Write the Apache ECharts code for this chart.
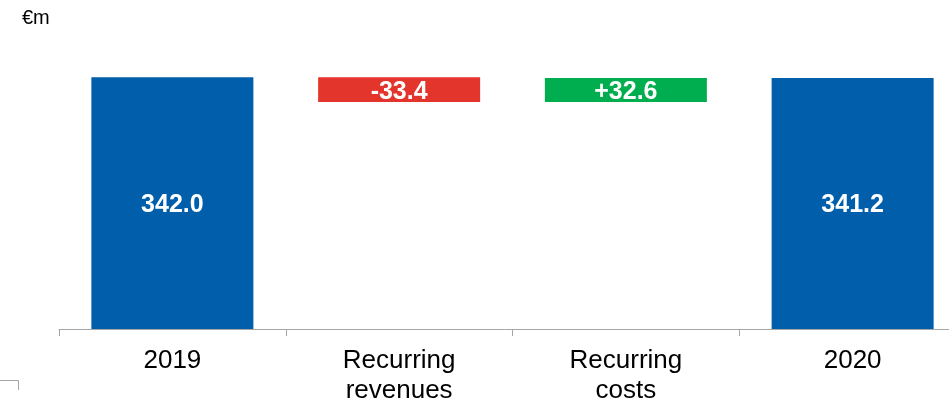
<!DOCTYPE html>
<html>
<head>
<meta charset="utf-8">
<script src="https://cdn.jsdelivr.net/npm/echarts@6/dist/echarts.min.js"></script>
<style>
html,body{margin:0;padding:0;background:#fff;}
#chart{width:949px;height:405px;}
</style>
</head>
<body>
<div id="chart"></div>
<script>
var categories = ['2019', 'Recurring\nrevenues', 'Recurring\ncosts', '2020'];
var startValue = 342.0;
var deltas = [-33.4, 32.6];
var endValue = 341.2;
var unitLabel = '€m';

var colors = { total: '#005EAA', neg: '#E3352B', pos: '#00AD4F' };

// build waterfall base + visible parts
var baseData = [0];
var visData = [{ value: startValue, itemStyle: { color: colors.total } }];
var labels = [startValue.toFixed(1)];
var running = startValue;
deltas.forEach(function (d) {
  var next = running + d;
  baseData.push(Math.min(running, next));
  visData.push({ value: Math.abs(d), itemStyle: { color: d < 0 ? colors.neg : colors.pos } });
  labels.push((d < 0 ? '-' : '+') + Math.abs(d).toFixed(1));
  running = next;
});
baseData.push(0);
visData.push({ value: endValue, itemStyle: { color: colors.total } });
labels.push(endValue.toFixed(1));

var chart = echarts.init(document.getElementById('chart'));
chart.setOption({
  animation: false,
  backgroundColor: '#fff',
  textStyle: { fontFamily: 'Liberation Sans, Arial, sans-serif' },
  title: {
    text: unitLabel, left: 17, top: 3,
    textStyle: { fontSize: 20, fontWeight: 'normal', color: '#000', fontFamily: 'Liberation Sans' }
  },
  grid: { left: 59, right: -17, top: 34.7, bottom: 76, outerBoundsMode: 'none', containLabel: false },
  xAxis: {
    type: 'category',
    data: categories,
    axisLine: { lineStyle: { color: '#A6A6A6', width: 1 } },
    axisTick: { show: true, length: 7, lineStyle: { color: '#A6A6A6' } },
    axisLabel: {
      color: '#000', fontSize: 26, lineHeight: 30, margin: 17,
      fontFamily: 'Liberation Sans', interval: 0
    }
  },
  yAxis: {
    type: 'value', min: 0, max: 400, show: false,
    splitLine: { show: false }
  },
  graphic: [{
    type: 'polyline',
    shape: { points: [[0, 380.5], [18.5, 380.5], [18.5, 390]] },
    style: { stroke: '#A6A6A6', fill: null, lineWidth: 1 }
  }],
  series: [
    {
      type: 'bar', stack: 'wf', data: baseData, barWidth: 162,
      itemStyle: { color: 'transparent' }, silent: true
    },
    {
      type: 'bar', stack: 'wf', data: visData, barWidth: 162,
      label: {
        show: true, position: 'inside', color: '#fff', fontSize: 25, fontWeight: 'bold',
        fontFamily: 'Liberation Sans', offset: [0, 2],
        formatter: function (p) { return labels[p.dataIndex]; }
      }
    }
  ]
});
</script>
</body>
</html>
